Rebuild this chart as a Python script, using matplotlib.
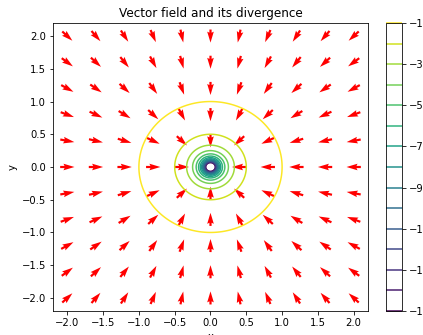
import numpy as np
import matplotlib
matplotlib.use("Agg")
import matplotlib.pyplot as plt

# grid used for the arrows and the finer grid for the divergence contours
arrow_axis = np.linspace(-2, 2, 11)
contour_axis = np.linspace(-2, 2, 200)
levels = np.arange(-15, 0)
cbar_ticks = [-1, -3, -5, -7, -9, -11, -13, -15]

# field F = -r/|r| (unit vectors toward the origin), div F = -1/|r|
X, Y = np.meshgrid(arrow_axis, arrow_axis)
R = np.hypot(X, Y)
with np.errstate(invalid="ignore", divide="ignore"):
    U = -X / R
    V = -Y / R

Xc, Yc = np.meshgrid(contour_axis, contour_axis)
div = -1.0 / np.hypot(Xc, Yc)

fig = plt.figure(figsize=(423 / 72, 335 / 72), dpi=72)
ax = fig.add_axes([53 / 423, 24 / 335, 315 / 423, 288 / 335])
cax = fig.add_axes([386 / 423, 24 / 335, 16 / 423, 288 / 335])

ax.quiver(X, Y, U, V, color="red", pivot="mid", angles="xy",
          scale_units="xy", scale=5.0, width=0.007)
cs = ax.contour(Xc, Yc, div, levels=levels, cmap="viridis")
cb = fig.colorbar(cs, cax=cax)
cb.set_ticks(cbar_ticks)

ax.set_xlim(-2.2, 2.2)
ax.set_ylim(-2.2, 2.2)
ax.set_xticks(np.arange(-2, 2.01, 0.5))
ax.set_yticks(np.arange(-2, 2.01, 0.5))
ax.set_title("Vector field and its divergence")
ax.set_xlabel("x")
ax.set_ylabel("y")

plt.savefig("out.png", dpi=72)
